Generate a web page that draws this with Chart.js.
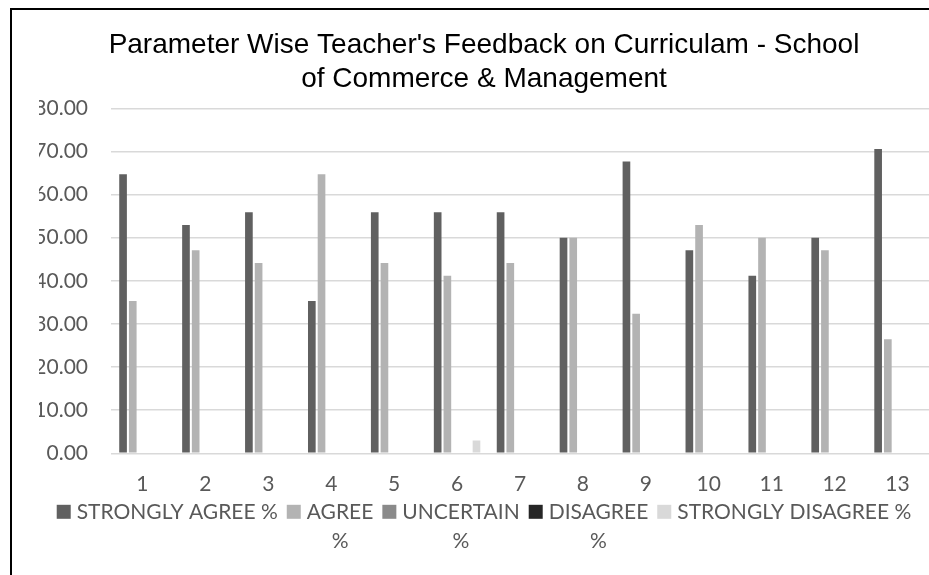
<!DOCTYPE html>
<html>
<head>
<meta charset="utf-8">
<script src="https://cdn.jsdelivr.net/npm/chart.js@4.4.1/dist/chart.umd.min.js"></script>
<style>
  html, body { margin: 0; padding: 0; background: #fff; overflow: hidden; }
  #wrap { position: relative; width: 929px; height: 575px; }
  #feedback-chart { display: block; }
  #frame { position: absolute; left: 10px; top: 8px; width: 1000px; height: 1000px; border: 2px solid #000; pointer-events: none; }
</style>
</head>
<body>
<div id="wrap">
  <canvas id="feedback-chart" width="929" height="575"></canvas>
  <div id="frame"></div>
</div>
<script>
// data
var categories = ['1', '2', '3', '4', '5', '6', '7', '8', '9', '10', '11', '12', '13'];
var stronglyAgree = [64.71, 52.94, 55.88, 35.29, 55.88, 55.88, 55.88, 50.00, 67.65, 47.06, 41.18, 50.00, 70.59];
var agree = [35.29, 47.06, 44.12, 64.71, 44.12, 41.18, 44.12, 50.00, 32.35, 52.94, 50.00, 47.06, 26.47];
var uncertain = [0, 0, 0, 0, 0, 0, 0, 0, 0, 0, 0, 0, 0];
var disagree = [0, 0, 0, 0, 0, 0, 0, 0, 0, 0, 0, 0, 0];
var stronglyDisagree = [0, 0, 0, 0, 0, 2.94, 0, 0, 0, 0, 0, 0, 0];
var seriesNames = ['STRONGLY AGREE %', 'AGREE %', 'UNCERTAIN %', 'DISAGREE %', 'STRONGLY DISAGREE %'];
var titleLines = ["Parameter Wise Teacher's Feedback on Curriculam - School", 'of Commerce & Management'];

var colors = ['#606060', '#b3b3b3', '#8a8a8a', '#262626', '#d9d9d9'];
var wrapLegend = [false, true, true, true, false];
var labelFont = 'Lato';

//--------------------------------------------- legend drawn like excel (wrapped items) -----------------------------
var excelLegend = {
	id: 'excelLegend',
	afterDraw: function(chart) {
		var ctx = chart.ctx;
		ctx.save();
		ctx.font = '21px ' + labelFont;
		ctx.textBaseline = 'middle';
		var items = chart.data.datasets.map(function(ds, i) {
			var lines = [ds.label];
			if (wrapLegend[i]) {
				var cut = ds.label.lastIndexOf(' ');
				lines = [ds.label.slice(0, cut), ds.label.slice(cut + 1)];
			}
			var w = 0;
			lines.forEach(function(l) { w = Math.max(w, ctx.measureText(l).width); });
			return {lines: lines, textW: w, color: ds.backgroundColor};
		});
		var total = 0;
		items.forEach(function(it) { total += 14 + 6 + it.textW; });
		total += 9 * (items.length - 1);
		var center = (chart.options.layout.padding.left + chart.width) / 2;
		var x = center - total / 2;
		var y = chart.chartArea.bottom + 58.5;
		items.forEach(function(it) {
			ctx.fillStyle = it.color;
			ctx.fillRect(x, y - 7, 14, 14);
			ctx.fillStyle = '#595959';
			ctx.textAlign = 'center';
			it.lines.forEach(function(l, k) {
				ctx.fillText(l, x + 20 + it.textW / 2, y + k * 29);
			});
			x += 20 + it.textW + 9;
		});
		ctx.restore();
	}
};

//--------------------------------------------- bar chart ----------------------------------------------------------
var series = [stronglyAgree, agree, uncertain, disagree, stronglyDisagree];
var ctx = document.getElementById('feedback-chart').getContext('2d');
var myChart = new Chart(ctx, {
	type: 'bar',
	data: {
		labels: categories,
		datasets: series.map(function(vals, i) {
			return {
				label: seriesNames[i],
				data: vals,
				backgroundColor: colors[i],
				borderWidth: 0,
				categoryPercentage: 0.771,
				barPercentage: 0.79
			};
		})
	},
	options: {
		responsive: false,
		animation: false,
		devicePixelRatio: 1,
		layout: {
			padding: {left: 39, right: 0, top: 0, bottom: 60.5}
		},
		plugins: {
			legend: {display: false},
			tooltip: {enabled: false},
			title: {
				display: true,
				text: titleLines,
				color: '#000',
				font: {family: 'Liberation Sans', size: 28, weight: 'normal', lineHeight: 1.2},
				padding: {top: 28.5, bottom: 12.6}
			}
		},
		scales: {
			x: {
				grid: {display: false, drawTicks: false},
				border: {display: false},
				ticks: {color: '#595959', font: {family: labelFont, size: 21}, padding: 18}
			},
			y: {
				min: 0,
				max: 80,
				afterFit: function(scale) { scale.width = 72; },
				grid: {color: '#d9d9d9', lineWidth: 1.5, drawTicks: false},
				border: {display: false},
				ticks: {
					stepSize: 10,
					color: '#595959',
					font: {family: labelFont, size: 21},
					padding: 23,
					callback: function(v) { return v.toFixed(2); }
				}
			}
		}
	},
	plugins: [excelLegend]
});
</script>
</body>
</html>
